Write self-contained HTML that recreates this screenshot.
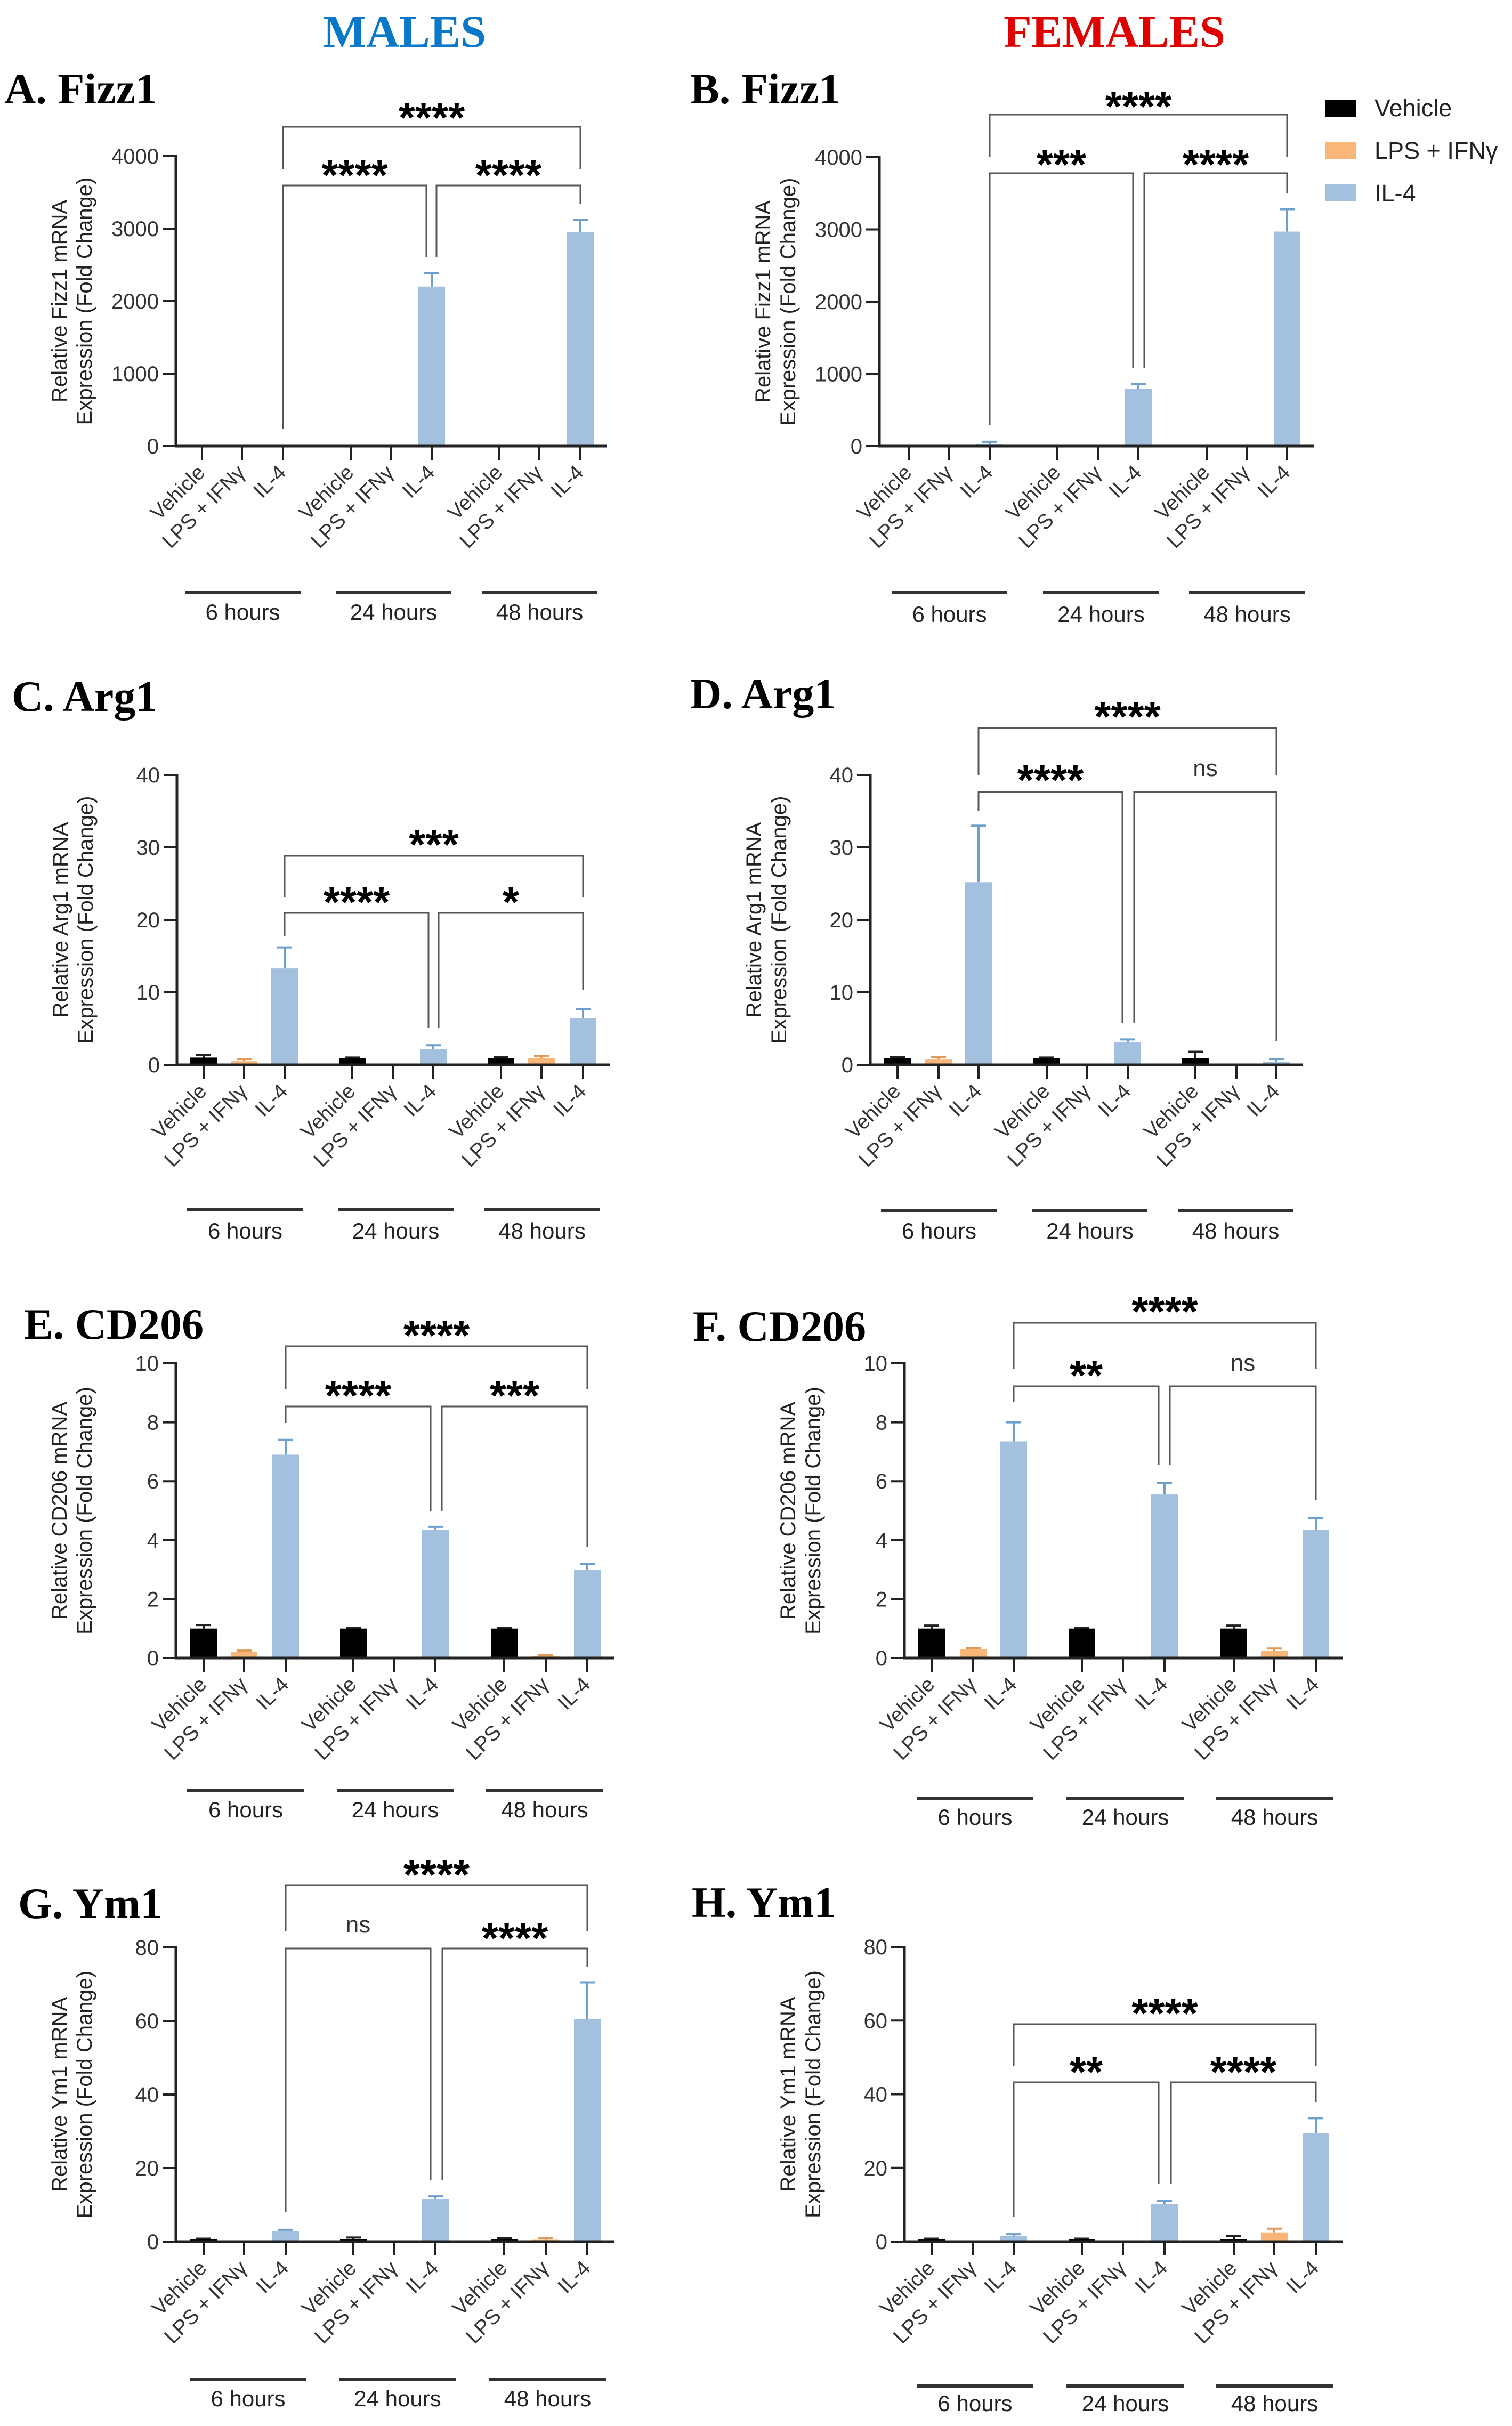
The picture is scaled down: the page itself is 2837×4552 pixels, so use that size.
<!DOCTYPE html>
<html><head><meta charset="utf-8"><style>
html,body{margin:0;padding:0;background:#fff;}
svg{display:block;}
</style></head><body>
<svg id="fig" width="2837" height="4552" viewBox="0 0 2837 4552" xmlns="http://www.w3.org/2000/svg">
<rect width="2837" height="4552" fill="#fff"/>
<text x="759" y="88" text-anchor="middle" font-family="Liberation Serif, serif" font-weight="bold" font-size="86" fill="#0a78c8">MALES</text>
<text x="2091" y="88" text-anchor="middle" font-family="Liberation Serif, serif" font-weight="bold" font-size="86" fill="#e00000">FEMALES</text>
<g font-family="Liberation Sans, sans-serif" font-size="45" fill="#222">
<rect x="2486" y="187" width="59" height="32" fill="#000"/>
<text x="2579" y="218">Vehicle</text>
<rect x="2486" y="266" width="59" height="32" fill="#f9b679"/>
<text x="2579" y="298">LPS + IFNγ</text>
<rect x="2486" y="346" width="59" height="32" fill="#a3c1de"/>
<text x="2579" y="378">IL-4</text>
</g>
</svg>
<script>
const categories = ["Vehicle","LPS + IFNγ","IL-4","Vehicle","LPS + IFNγ","IL-4","Vehicle","LPS + IFNγ","IL-4"];
const groupLabels = ["6 hours","24 hours","48 hours"];
const seriesOfBar = [0,1,2,0,1,2,0,1,2];
const fizz1MaleValues = [0,0,10,0,0,2200,0,0,2950];
const fizz1MaleErrors = [0,0,0,0,0,2390,0,0,3120];
const fizz1FemaleValues = [0,0,30,0,0,790,0,0,2970];
const fizz1FemaleErrors = [0,0,60,0,0,860,0,0,3280];
const arg1MaleValues = [1.0,0.5,13.3,0.9,0.1,2.2,0.9,0.9,6.4];
const arg1MaleErrors = [1.4,0.8,16.2,1.0,0,2.7,1.1,1.2,7.7];
const arg1FemaleValues = [0.9,0.8,25.2,0.9,0.05,3.1,0.9,0.05,0.4];
const arg1FemaleErrors = [1.1,1.1,33,1.0,0,3.5,1.8,0,0.8];
const cd206MaleValues = [1.0,0.2,6.9,1.0,0,4.35,1.0,0.07,3.0];
const cd206MaleErrors = [1.12,0.25,7.4,1.03,0,4.45,1.02,0.1,3.2];
const cd206FemaleValues = [1.0,0.3,7.35,1.0,0.02,5.55,1.0,0.25,4.35];
const cd206FemaleErrors = [1.1,0.33,8.0,1.02,0,5.95,1.1,0.32,4.75];
const ym1MaleValues = [0.6,0.3,2.8,0.7,0.1,11.5,0.7,0.5,60.5];
const ym1MaleErrors = [0.8,0,3.2,1.1,0,12.3,1.0,1.0,70.5];
const ym1FemaleValues = [0.6,0,1.6,0.6,0.2,10.2,0.6,2.5,29.5];
const ym1FemaleErrors = [0.8,0,2.0,0.8,0,11,1.5,3.5,33.5];
const fizz1Ticks = [0,1000,2000,3000,4000];
const arg1Ticks = [0,10,20,30,40];
const cd206Ticks = [0,2,4,6,8,10];
const ym1Ticks = [0,20,40,60,80];

const colors = ["#000000","#f9b679","#a3c1de"];
const errColors = ["#222222","#e09a5a","#6f9fcb"];
const NS = "http://www.w3.org/2000/svg";
const svg = document.getElementById("fig");
function mk(tag, attrs, parent){const e=document.createElementNS(NS,tag);for(const k in attrs)e.setAttribute(k,attrs[k]);(parent||svg).appendChild(e);return e;}

const tL=[379,454,531,658,733,810,937,1012,1089];
const tR=[1705,1781,1857,1984,2061,2136,2264,2339,2415];
const panels = [
 {id:"a",title:"A. Fizz1",tx:8,ty:194,gene:"Fizz1",ax:330,y0:837,yTop:293,ticks:fizz1Ticks,vals:fizz1MaleValues,errs:fizz1MaleErrors,
  xt:tL,end:1138,lines:[[347,564],[630,847],[904,1121]],lineY:1111,textY:1148,
  br:[[531,1089,238,317,317,"****",203],[531,800,348,805,482,"****",311],[819,1089,348,482,383,"****",311]]},
 {id:"b",title:"B. Fizz1",tx:1295,ty:194,gene:"Fizz1",ax:1650,y0:837,yTop:295,ticks:fizz1Ticks,vals:fizz1FemaleValues,errs:fizz1FemaleErrors,
  xt:tR,end:2465,lines:[[1673,1890],[1957,2175],[2231,2449]],lineY:1112,textY:1152,
  br:[[1857,2415,215,295,295,"****",182],[1857,2126,325,797,690,"***",291],[2147,2415,325,690,363,"****",291]]},
 {id:"c",title:"C. Arg1",tx:22,ty:1334,gene:"Arg1",ax:332,y0:1998,yTop:1454,ticks:arg1Ticks,vals:arg1MaleValues,errs:arg1MaleErrors,
  xt:[382,458,534,661,738,813,940,1016,1094],end:1145,lines:[[351,569],[634,851],[909,1125]],lineY:2270,textY:2309,
  br:[[534,1094,1606,1683,1683,"***",1567],[534,804,1713,1756,1928,"****",1675],[823,1094,1713,1928,1858,"*",1675]]},
 {id:"d",title:"D. Arg1",tx:1295,ty:1329,gene:"Arg1",ax:1633,y0:1998,yTop:1454,ticks:arg1Ticks,vals:arg1FemaleValues,errs:arg1FemaleErrors,
  xt:[1684,1761,1836,1964,2040,2116,2243,2320,2395],end:2445,lines:[[1653,1871],[1937,2153],[2210,2427]],lineY:2271,textY:2309,
  br:[[1836,2395,1366,1454,1454,"****",1327],[1836,2106,1486,1521,1919,"****",1446],[2128,2395,1486,1919,1954,"ns",1444]]},
 {id:"e",title:"E. CD206",tx:45,ty:2512,gene:"CD206",ax:330,y0:3111,yTop:2558,ticks:cd206Ticks,vals:cd206MaleValues,errs:cd206MaleErrors,
  xt:[382,458,536,663,740,817,946,1024,1102],end:1152,lines:[[351,571],[632,851],[912,1132]],lineY:3360,textY:3395,
  br:[[536,1102,2526,2607,2607,"****",2488],[536,808,2639,2670,2835,"****",2601],[829,1102,2639,2835,2902,"***",2601]]},
 {id:"f",title:"F. CD206",tx:1300,ty:2516,gene:"CD206",ax:1697,y0:3111,yTop:2558,ticks:cd206Ticks,vals:cd206FemaleValues,errs:cd206FemaleErrors,
  xt:[1748,1826,1902,2030,2107,2185,2315,2391,2469],end:2519,lines:[[1720,1939],[2001,2222],[2282,2501]],lineY:3374,textY:3409,
  br:[[1902,2469,2482,2568,2568,"****",2443],[1902,2174,2601,2631,2749,"**",2563],[2195,2469,2601,2749,2815,"ns",2560]]},
 {id:"g",title:"G. Ym1",tx:34,ty:3599,gene:"Ym1",ax:330,y0:4206,yTop:3654,ticks:ym1Ticks,vals:ym1MaleValues,errs:ym1MaleErrors,
  xt:[382,458,536,663,740,817,946,1024,1102],end:1152,lines:[[357,574],[637,855],[918,1137]],lineY:4465,textY:4500,
  br:[[536,1102,3537,3624,3624,"****",3500],[536,808,3656,4151,4090,"ns",3614],[830,1102,3656,4090,3691,"****",3619]]},
 {id:"h",title:"H. Ym1",tx:1298,ty:3597,gene:"Ym1",ax:1697,y0:4206,yTop:3653,ticks:ym1Ticks,vals:ym1FemaleValues,errs:ym1FemaleErrors,
  xt:[1748,1826,1902,2030,2107,2185,2315,2391,2469],end:2519,lines:[[1720,1939],[2001,2222],[2282,2501]],lineY:4477,textY:4509,
  br:[[1902,2469,3798,3876,3876,"****",3760],[1902,2174,3907,4160,4098,"**",3870],[2197,2469,3907,4098,3944,"****",3870]]}
];

panels.forEach(p=>{
  const g = mk("g",{});
  
  
  const maxV = p.ticks[p.ticks.length-1];
  const yS = v => p.y0 - (v/maxV)*(p.y0-p.yTop);
  const t = mk("text",{x:p.tx,y:p.ty,"font-family":"Liberation Serif, serif","font-weight":"bold","font-size":82,fill:"#000"},g);
  t.textContent = p.title;
  
  
  p.vals.forEach((v,i)=>{
    const s = seriesOfBar[i], x = p.xt[i];
    if (p.errs[i] > v) {
      const e1 = mk("line",{x1:x,x2:x,y1:yS(v),y2:yS(p.errs[i]),stroke:errColors[s],"stroke-width":4},g);
      
      
      const e2 = mk("line",{x1:x-14,x2:x+14,y1:yS(p.errs[i]),y2:yS(p.errs[i]),stroke:errColors[s],"stroke-width":4},g);
      
      
    }
    const h = p.y0 - yS(v);
    if (h > 0) {
      const r = mk("rect",{x:x-25,y:yS(v),width:50,height:h,fill:colors[s]},g);
      
      
    }
  });
  const ya = mk("line",{x1:p.ax,x2:p.ax,y1:p.yTop-2,y2:p.y0+2,stroke:"#222","stroke-width":5},g);
  
  
  const xa = mk("line",{x1:p.ax-2,x2:p.end,y1:p.y0,y2:p.y0,stroke:"#222","stroke-width":5},g);
  
  
  p.ticks.forEach(v=>{
    const tk = mk("line",{x1:p.ax-25,x2:p.ax,y1:yS(v),y2:yS(v),stroke:"#222","stroke-width":4},g);
    
    
    const tl = mk("text",{x:p.ax-32,y:yS(v)+14,"text-anchor":"end","font-family":"Liberation Sans, sans-serif","font-size":40,fill:"#333"},g);
    tl.textContent = v;
    
    
  });
  const yc = (p.y0+p.yTop)/2;
  const yt = mk("text",{transform:`translate(${p.ax-205},${yc}) rotate(-90)`,"text-anchor":"middle","font-family":"Liberation Sans, sans-serif","font-size":40,fill:"#222"},g);
  yt.textContent = "Relative "+p.gene+" mRNA";
  
  
  const yt2 = mk("text",{transform:`translate(${p.ax-158},${yc}) rotate(-90)`,"text-anchor":"middle","font-family":"Liberation Sans, sans-serif","font-size":40,fill:"#222"},g);
  yt2.textContent = "Expression (Fold Change)";
  
  
  p.xt.forEach((x,i)=>{
    const tk = mk("line",{x1:x,x2:x,y1:p.y0,y2:p.y0+26,stroke:"#222","stroke-width":4},g);
    
    
    const lx = x+8, ly = p.y0+52;
    const tl = mk("text",{transform:`translate(${lx},${ly}) rotate(-45)`,"text-anchor":"end","font-family":"Liberation Sans, sans-serif","font-size":39,fill:"#333"},g);
    tl.textContent = categories[i];
    
    
  });
  p.lines.forEach((ln,k)=>{
    const l = mk("line",{x1:ln[0],x2:ln[1],y1:p.lineY,y2:p.lineY,stroke:"#333","stroke-width":6},g);
    
    
    const tx = mk("text",{x:(ln[0]+ln[1])/2,y:p.textY+15,"text-anchor":"middle","font-family":"Liberation Sans, sans-serif","font-size":42,fill:"#222"},g);
    tx.textContent = groupLabels[k];
    
    
  });
  p.br.forEach(b=>{
    const pl = mk("polyline",{points:`${b[0]},${b[3]} ${b[0]},${b[2]} ${b[1]},${b[2]} ${b[1]},${b[4]}`,fill:"none",stroke:"#555","stroke-width":3},g);
    
    
    const isNs = b[5]==="ns";
    const st = mk("text",{x:(b[0]+b[1])/2,y:isNs?b[6]+12:b[6]+45,"text-anchor":"middle","font-family":"Liberation Sans, sans-serif","font-weight":isNs?"normal":"bold","font-size":isNs?44:80,fill:isNs?"#333":"#000"},g);
    st.textContent = b[5];
    
    
  });
});
</script>
</body></html>
